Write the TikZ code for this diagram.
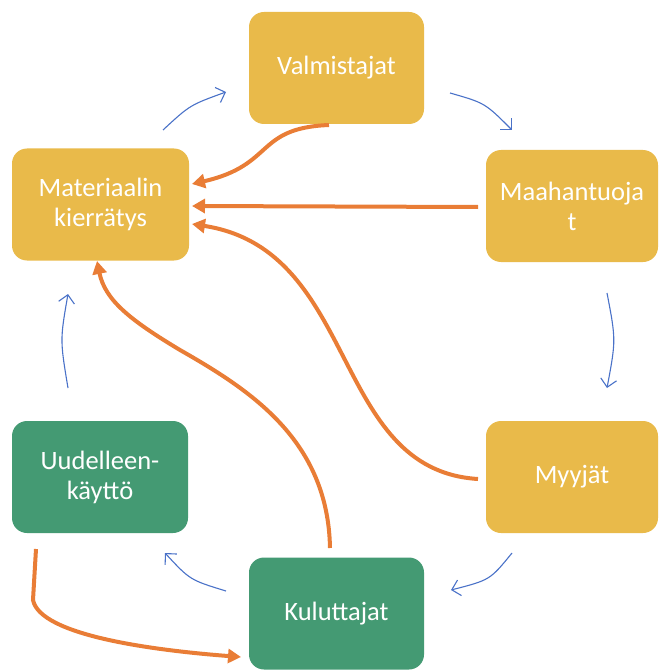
\documentclass[tikz,border=0pt]{standalone}
\usepackage{fontspec}
\setmainfont{Carlito}
\usetikzlibrary{arrows.meta}
\definecolor{gold}{HTML}{E9BA4A}
\definecolor{teal}{HTML}{449A73}
\definecolor{flow}{HTML}{E97D36}
\definecolor{cyc}{HTML}{4A72C8}
\tikzset{
  stage/.style={rounded corners=15pt, inner sep=0pt, text=white, align=center,
    font=\fontsize{26.5}{30}\selectfont, minimum height=112pt},
  yel/.style={stage, fill=gold},
  grn/.style={stage, fill=teal},
  back/.style={draw=flow, line width=4pt, -{Triangle[length=13pt,width=14pt]}},
  cycle/.style={draw=cyc, line width=1.1pt, -{Straight Barb[length=8pt,width=16pt]}}
}
\begin{document}
\begin{tikzpicture}[x=1pt,y=-1pt]
\useasboundingbox (0,0) rectangle (660,671);
% stages
\node[yel, minimum width=175pt] (V)  at (336.5,68)  {Valmistajat};
\node[yel, minimum width=177pt] (M)  at (100.5,204.5) {Materiaalin\\kierrätys};
\node[yel, minimum width=172pt] (Mh) at (572,206)   {Maahantuoja\\t};
\node[grn, minimum width=176pt] (U)  at (100,477)   {Uudelleen-\\käyttö};
\node[yel, minimum width=172pt] (My) at (572,477)   {Myyjät};
\node[grn, minimum width=175pt] (K)  at (336.5,613.5) {Kuluttajat};
% free ends of the return flows
\coordinate (v0) at (329,125);
\coordinate (m1) at (192,184);
\coordinate (h0) at (478,207);
\coordinate (m2) at (192,206);
\coordinate (y0) at (478,479);
\coordinate (m3) at (192,224);
\coordinate (k0) at (330,548);
\coordinate (m4) at (97,261);
\coordinate (u0) at (36,549);
\coordinate (k1) at (241,657);
% return flows to recycling
\draw[back] (v0) .. controls (255,128) and (275,165) .. (m1);
\draw[back] (h0) -- (m2);
\draw[back] (y0) .. controls (330,470) and (360,250) .. (m3);
\draw[back] (k0) .. controls (328,440) and (250,390) .. (180,350)
                 .. controls (130,320) and (105,300) .. (m4);
\draw[back] (u0) -- (33,600) .. controls (40,635) and (150,650) .. (k1);
% cycle arrows
\coordinate (c1a) at (163,130); \coordinate (c1b) at (226,92);
\coordinate (c2a) at (450,93);  \coordinate (c2b) at (512,130);
\coordinate (c3a) at (607,293); \coordinate (c3b) at (607,388);
\coordinate (c4a) at (512,553); \coordinate (c4b) at (451,590);
\coordinate (c5a) at (226,591); \coordinate (c5b) at (165,553);
\coordinate (c6a) at (68,388);  \coordinate (c6b) at (68,294);
\draw[cycle] (c1a) .. controls (190,105) .. (c1b);
\draw[cycle] (c2a) .. controls (485,103) .. (c2b);
\draw[cycle] (c3a) .. controls (616,340) .. (c3b);
\draw[cycle] (c4a) .. controls (490,580) .. (c4b);
\draw[cycle] (c5a) .. controls (190,580) .. (c5b);
\draw[cycle] (c6a) .. controls (60,340) .. (c6b);
\end{tikzpicture}
\end{document}
